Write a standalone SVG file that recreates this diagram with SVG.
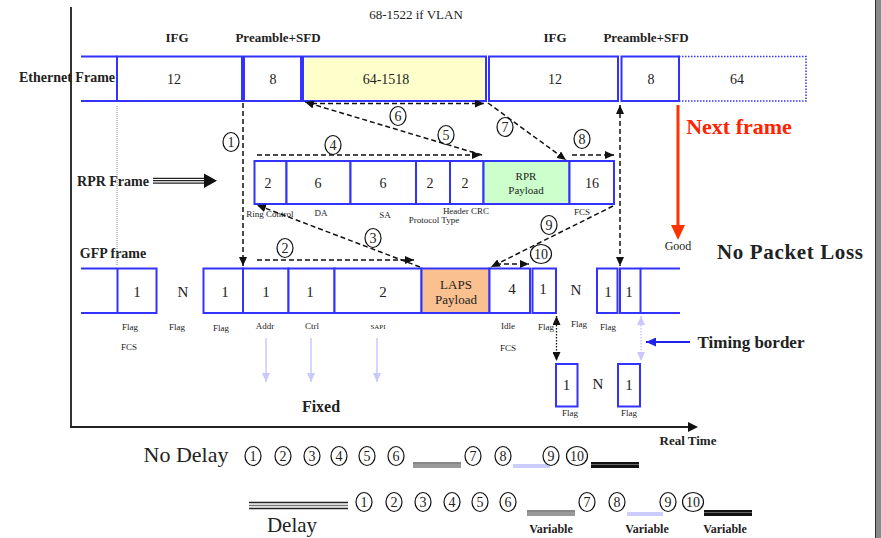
<svg xmlns="http://www.w3.org/2000/svg" width="881" height="538" viewBox="0 0 881 538">
<defs>
<style>
text{font-family:"Liberation Serif","Times New Roman",serif;fill:#222}
.b{font-weight:bold}
.box{fill:#fff;stroke:#3333ff;stroke-width:2}
.num{font-size:14px;text-anchor:middle}
.gnum{font-size:15px;text-anchor:middle}
.sm{font-size:9px;text-anchor:middle}
.hd{font-size:13px;font-weight:bold;text-anchor:middle}
.dash{fill:none;stroke:#111;stroke-width:1.5;stroke-dasharray:5,3}
.circ{fill:none;stroke:#111;stroke-width:1.2}
.ct{font-size:14px;text-anchor:middle}
.lav{stroke:#c8c8ff;stroke-width:1.5;fill:none}
</style>
<marker id="ah" markerWidth="9" markerHeight="8" refX="9" refY="4" orient="auto-start-reverse" markerUnits="userSpaceOnUse"><path d="M0,0 L9,4 L0,8 z" fill="#111"/></marker>
<marker id="ahl" markerWidth="9" markerHeight="8" refX="9" refY="4" orient="auto-start-reverse" markerUnits="userSpaceOnUse"><path d="M0,0 L9,4 L0,8 z" fill="#c8c8ff"/></marker>
<marker id="ahb" markerWidth="10" markerHeight="9" refX="10" refY="4.5" orient="auto" markerUnits="userSpaceOnUse"><path d="M0,0 L10,4.5 L0,9 z" fill="#2222ee"/></marker>
</defs>
<rect width="881" height="538" fill="#fff"/>
<rect x="875" y="0" width="6" height="538" fill="#8a8a8a"/>
<line x1="875.5" y1="0" x2="875.5" y2="538" stroke="#333" stroke-width="1"/>

<!-- axes -->
<g id="axes">
<line x1="71" y1="7" x2="71" y2="428" stroke="#333" stroke-width="2"/>
<line x1="70" y1="427" x2="690" y2="427" stroke="#222" stroke-width="2"/>
<path d="M688,422 L698,427 L688,432 z" fill="#111"/>
<text x="688" y="445" class="b" font-size="13" text-anchor="middle">Real Time</text>
</g>

<!-- headings -->
<g id="headings">
<text x="416" y="19" font-size="13" text-anchor="middle">68-1522 if VLAN</text>
<text x="177" y="42" class="hd">IFG</text>
<text x="278" y="42" class="hd">Preamble+SFD</text>
<text x="555" y="42" class="hd">IFG</text>
<text x="646" y="42" class="hd">Preamble+SFD</text>
<text x="67" y="82" class="b" font-size="14" text-anchor="middle">Ethernet Frame</text>
<text x="113" y="186" class="b" font-size="14" text-anchor="middle">RPR Frame</text>
<text x="113" y="258" class="b" font-size="14" text-anchor="middle">GFP frame</text>
</g>

<!-- Ethernet frame -->
<g id="ethernet">
<line x1="81" y1="56.5" x2="117" y2="56.5" stroke="#3333ff" stroke-width="2"/>
<line x1="81" y1="101" x2="117" y2="101" stroke="#3333ff" stroke-width="2"/>
<rect x="117" y="56.5" width="125" height="44.5" class="box"/>
<rect x="244" y="56.5" width="57" height="44.5" class="box"/>
<rect x="303" y="56.5" width="183" height="44.5" class="box" style="fill:#ffffcc"/>
<rect x="489" y="56.5" width="129" height="44.5" class="box"/>
<rect x="621.5" y="56.5" width="57.5" height="44.5" class="box"/>
<rect x="679" y="56.5" width="127" height="44.5" fill="none" stroke="#3333ff" stroke-width="1.5" stroke-dasharray="1.5,1.5"/>
<text x="174" y="84" class="num">12</text>
<text x="273" y="84" class="num">8</text>
<text x="386" y="84" class="num">64-1518</text>
<text x="555" y="84" class="num">12</text>
<text x="651" y="84" class="num">8</text>
<text x="737" y="84" class="num">64</text>
</g>

<!-- RPR frame -->
<g id="rpr">
<line x1="153" y1="178.3" x2="206" y2="178.3" stroke="#222" stroke-width="1.2"/>
<line x1="153" y1="180.7" x2="206" y2="180.7" stroke="#222" stroke-width="1.2"/>
<line x1="153" y1="183.1" x2="206" y2="183.1" stroke="#222" stroke-width="1.2"/>
<path d="M204,173.5 L217,180.7 L204,188 z" fill="#111"/>
<rect x="254.5" y="161" width="32" height="43" class="box"/>
<rect x="286.5" y="161" width="64" height="43" class="box"/>
<rect x="350.5" y="161" width="65.5" height="43" class="box"/>
<rect x="416" y="161" width="34" height="43" class="box"/>
<rect x="450" y="161" width="33.5" height="43" class="box"/>
<rect x="483.5" y="161" width="86" height="43" class="box" style="fill:#ccffcc"/>
<rect x="569.5" y="161" width="44.5" height="43" class="box"/>
<text x="268" y="188" class="num">2</text>
<text x="318" y="188" class="num">6</text>
<text x="383" y="188" class="num">6</text>
<text x="430" y="188" class="num">2</text>
<text x="465" y="188" class="num">2</text>
<text x="526" y="180" font-size="11" text-anchor="middle">RPR</text>
<text x="526" y="194" font-size="11" text-anchor="middle">Payload</text>
<text x="592" y="188" class="num">16</text>
<text x="270" y="217" class="sm">Ring Control</text>
<text x="321" y="216" class="sm">DA</text>
<text x="385" y="218" class="sm">SA</text>
<text x="466" y="214" class="sm">Header CRC</text>
<text x="434" y="223" class="sm">Protocol Type</text>
<text x="582" y="215" class="sm">FCS</text>
</g>

<!-- GFP frame -->
<g id="gfp">
<line x1="81" y1="268.5" x2="117" y2="268.5" stroke="#3333ff" stroke-width="2"/>
<line x1="81" y1="313" x2="117" y2="313" stroke="#3333ff" stroke-width="2"/>
<rect x="117.5" y="268.5" width="39" height="44.5" class="box"/>
<rect x="203.5" y="268.5" width="39.5" height="44.5" class="box"/>
<rect x="243" y="268.5" width="45.5" height="44.5" class="box"/>
<rect x="288.5" y="268.5" width="46" height="44.5" class="box"/>
<rect x="334.5" y="268.5" width="87" height="44.5" class="box"/>
<rect x="421.5" y="268.5" width="68" height="44.5" class="box" style="fill:#fac090"/>
<rect x="489.5" y="268.5" width="40.5" height="44.5" class="box"/>
<rect x="532.5" y="268.5" width="23.5" height="44.5" class="box"/>
<rect x="597" y="268.5" width="20.5" height="44.5" class="box"/>
<rect x="620" y="268.5" width="20.5" height="44.5" class="box"/>
<line x1="640.5" y1="268.5" x2="680" y2="268.5" stroke="#3333ff" stroke-width="2"/>
<line x1="640.5" y1="313" x2="680" y2="313" stroke="#3333ff" stroke-width="2"/>
<text x="137" y="297" class="gnum">1</text>
<text x="183" y="297" class="gnum">N</text>
<text x="225" y="297" class="gnum">1</text>
<text x="266" y="297" class="gnum">1</text>
<text x="310" y="297" class="gnum">1</text>
<text x="383" y="297" class="gnum">2</text>
<text x="456" y="289" font-size="13" text-anchor="middle">LAPS</text>
<text x="456" y="304" font-size="13" text-anchor="middle">Payload</text>
<text x="512" y="294" class="gnum">4</text>
<text x="543" y="294" class="gnum">1</text>
<text x="576" y="295" class="gnum">N</text>
<text x="608" y="297" class="gnum">1</text>
<text x="629" y="297" class="gnum">1</text>
<text x="130" y="330" class="sm">Flag</text>
<text x="177" y="330" class="sm">Flag</text>
<text x="221" y="331" class="sm">Flag</text>
<text x="265" y="329" class="sm">Addr</text>
<text x="312" y="329" class="sm">Ctrl</text>
<text x="378" y="329" font-size="7" text-anchor="middle">SAPI</text>
<text x="129" y="350" class="sm">FCS</text>
<text x="508" y="329" class="sm">Idle</text>
<text x="546" y="330" class="sm">Flag</text>
<text x="579" y="327" class="sm">Flag</text>
<text x="608" y="330" class="sm">Flag</text>
<text x="508" y="351" class="sm">FCS</text>
<rect x="556" y="364" width="21.5" height="42.5" class="box"/>
<rect x="618" y="364" width="22" height="42.5" class="box"/>
<text x="566.5" y="390" class="gnum">1</text>
<text x="598" y="389" class="gnum">N</text>
<text x="629" y="390" class="gnum">1</text>
<text x="570" y="416" class="sm">Flag</text>
<text x="629" y="416" class="sm">Flag</text>
</g>

<!-- connectors -->
<g id="connectors">
<line x1="117" y1="106" x2="117" y2="266" stroke="#888" stroke-width="1" stroke-dasharray="1,1"/>
<line x1="243" y1="103" x2="243" y2="266" class="dash" marker-end="url(#ah)"/>
<line x1="620" y1="105" x2="620" y2="266" class="dash" marker-start="url(#ah)" marker-end="url(#ah)"/>
<line x1="257" y1="260" x2="414" y2="260" class="dash" marker-end="url(#ah)"/>
<line x1="420" y1="267" x2="257" y2="205" class="dash" marker-end="url(#ah)"/>
<line x1="257" y1="155" x2="481" y2="155" class="dash" marker-end="url(#ah)"/>
<line x1="482" y1="155" x2="305" y2="102" class="dash" marker-end="url(#ah)"/>
<line x1="312" y1="103.5" x2="484" y2="103.5" class="dash" marker-end="url(#ah)"/>
<line x1="488" y1="103" x2="566" y2="160" class="dash" marker-end="url(#ah)"/>
<line x1="572" y1="155" x2="614" y2="155" class="dash" marker-end="url(#ah)"/>
<line x1="613" y1="206" x2="491" y2="267" class="dash" marker-end="url(#ah)"/>
<line x1="496" y1="264" x2="529" y2="264" class="dash" marker-end="url(#ah)"/>
<line x1="556.5" y1="316" x2="556.5" y2="361" stroke="#111" stroke-width="1.3" stroke-dasharray="1.5,1.5" marker-start="url(#ah)" marker-end="url(#ah)"/>
<line x1="641" y1="316" x2="641" y2="361" stroke="#ccccff" stroke-width="1.5" stroke-dasharray="1.5,1.5" marker-start="url(#ahl)" marker-end="url(#ahl)"/>
<line x1="266" y1="338" x2="266" y2="382" class="lav" marker-end="url(#ahl)"/>
<line x1="311" y1="338" x2="311" y2="382" class="lav" marker-end="url(#ahl)"/>
<line x1="377" y1="338" x2="377" y2="382" class="lav" marker-end="url(#ahl)"/>
<line x1="690" y1="342" x2="646" y2="342" stroke="#2222ee" stroke-width="2" marker-end="url(#ahb)"/>
<line x1="678" y1="105" x2="678" y2="228" stroke="#ff3300" stroke-width="3"/>
<path d="M671,225 L678,240 L685,225 z" fill="#ff3300"/>
</g>

<!-- step labels -->
<g id="steps">
<ellipse cx="231" cy="142" rx="8" ry="9.5" class="circ"/><text x="231" y="147" class="ct">1</text>
<ellipse cx="285" cy="248" rx="8" ry="9.5" class="circ"/><text x="285" y="253" class="ct">2</text>
<ellipse cx="373" cy="238" rx="8" ry="9.5" class="circ"/><text x="373" y="243" class="ct">3</text>
<ellipse cx="333" cy="145" rx="8" ry="9.5" class="circ"/><text x="333" y="150" class="ct">4</text>
<ellipse cx="446" cy="135" rx="8" ry="9.5" class="circ"/><text x="446" y="140" class="ct">5</text>
<ellipse cx="398" cy="116" rx="8" ry="9.5" class="circ"/><text x="398" y="121" class="ct">6</text>
<ellipse cx="505" cy="127" rx="8" ry="9.5" class="circ"/><text x="505" y="132" class="ct">7</text>
<ellipse cx="582" cy="139" rx="8" ry="9.5" class="circ"/><text x="582" y="144" class="ct">8</text>
<ellipse cx="549" cy="225" rx="8" ry="9.5" class="circ"/><text x="549" y="230" class="ct">9</text>
<ellipse cx="541" cy="254" rx="10.5" ry="9.5" class="circ"/><text x="541" y="259" class="ct">10</text>
</g>

<!-- annotations -->
<g id="annotations">
<text x="739" y="134" class="b" font-size="22" text-anchor="middle" style="fill:#ff2200">Next frame</text>
<text x="678" y="250" font-size="12" text-anchor="middle">Good</text>
<text x="790" y="259" class="b" font-size="21" text-anchor="middle" textLength="146">No Packet Loss</text>
<text x="751" y="348" class="b" font-size="17" text-anchor="middle">Timing border</text>
<text x="321" y="412" class="b" font-size="16" text-anchor="middle">Fixed</text>
</g>

<!-- timeline No Delay -->
<g id="nodelay">
<text x="186" y="462" font-size="22" text-anchor="middle">No Delay</text>
<ellipse cx="253" cy="456" rx="8" ry="9.5" class="circ"/><text x="253" y="461" class="ct">1</text>
<ellipse cx="283" cy="456" rx="8" ry="9.5" class="circ"/><text x="283" y="461" class="ct">2</text>
<ellipse cx="312" cy="456" rx="8" ry="9.5" class="circ"/><text x="312" y="461" class="ct">3</text>
<ellipse cx="339" cy="456" rx="8" ry="9.5" class="circ"/><text x="339" y="461" class="ct">4</text>
<ellipse cx="367" cy="456" rx="8" ry="9.5" class="circ"/><text x="367" y="461" class="ct">5</text>
<ellipse cx="396" cy="456" rx="8" ry="9.5" class="circ"/><text x="396" y="461" class="ct">6</text>
<rect x="413" y="462" width="48" height="6" fill="#999"/>
<line x1="413" y1="463" x2="461" y2="463" stroke="#777" stroke-width="1"/>
<ellipse cx="473" cy="456" rx="8" ry="9.5" class="circ"/><text x="473" y="461" class="ct">7</text>
<ellipse cx="503" cy="456" rx="8" ry="9.5" class="circ"/><text x="503" y="461" class="ct">8</text>
<rect x="513" y="464" width="37" height="4" fill="#ccccff"/>
<ellipse cx="551" cy="456" rx="8" ry="9.5" class="circ"/><text x="551" y="461" class="ct">9</text>
<ellipse cx="577" cy="456" rx="10.5" ry="9.5" class="circ"/><text x="577" y="461" class="ct">10</text>
<rect x="591" y="462" width="48" height="6" fill="#111"/>
<line x1="591" y1="464.5" x2="639" y2="464.5" stroke="#666" stroke-width="1"/>
</g>

<!-- timeline Delay -->
<g id="delay">
<line x1="249" y1="502.5" x2="348" y2="502.5" stroke="#222" stroke-width="1.5"/>
<line x1="249" y1="505.5" x2="348" y2="505.5" stroke="#777" stroke-width="1.5"/>
<line x1="249" y1="508.5" x2="348" y2="508.5" stroke="#222" stroke-width="1.5"/>
<text x="292" y="532" font-size="21" text-anchor="middle">Delay</text>
<ellipse cx="364" cy="502" rx="8" ry="9.5" class="circ"/><text x="364" y="507" class="ct">1</text>
<ellipse cx="394" cy="502" rx="8" ry="9.5" class="circ"/><text x="394" y="507" class="ct">2</text>
<ellipse cx="423" cy="502" rx="8" ry="9.5" class="circ"/><text x="423" y="507" class="ct">3</text>
<ellipse cx="452" cy="502" rx="8" ry="9.5" class="circ"/><text x="452" y="507" class="ct">4</text>
<ellipse cx="480" cy="502" rx="8" ry="9.5" class="circ"/><text x="480" y="507" class="ct">5</text>
<ellipse cx="508" cy="502" rx="8" ry="9.5" class="circ"/><text x="508" y="507" class="ct">6</text>
<rect x="527" y="510" width="48" height="6" fill="#999"/>
<line x1="527" y1="511" x2="575" y2="511" stroke="#777" stroke-width="1"/>
<ellipse cx="587" cy="502" rx="8" ry="9.5" class="circ"/><text x="587" y="507" class="ct">7</text>
<ellipse cx="617" cy="502" rx="8" ry="9.5" class="circ"/><text x="617" y="507" class="ct">8</text>
<rect x="627" y="512" width="36" height="4" fill="#ccccff"/>
<ellipse cx="668" cy="502" rx="8" ry="9.5" class="circ"/><text x="668" y="507" class="ct">9</text>
<ellipse cx="693" cy="502" rx="10.5" ry="9.5" class="circ"/><text x="693" y="507" class="ct">10</text>
<rect x="704" y="510" width="48" height="6" fill="#111"/>
<line x1="704" y1="512.5" x2="752" y2="512.5" stroke="#666" stroke-width="1"/>
<text x="551" y="533" class="b" font-size="12" text-anchor="middle">Variable</text>
<text x="647" y="533" class="b" font-size="12" text-anchor="middle">Variable</text>
<text x="725" y="533" class="b" font-size="12" text-anchor="middle">Variable</text>
</g>
</svg>
